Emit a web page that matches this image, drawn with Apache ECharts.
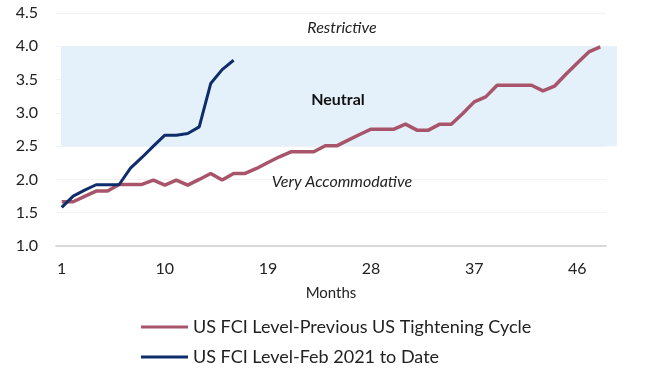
<!DOCTYPE html>
<html>
<head>
<meta charset="utf-8">
<script src="https://cdn.jsdelivr.net/npm/echarts@6/dist/echarts.min.js"></script>
<style>html,body{margin:0;padding:0;background:#fff;}#c{width:650px;height:373px;}</style>
</head>
<body>
<div id="c"></div>
<script>
const months = Array.from({length: 48}, (_, i) => String(i + 1));
const prevCycle = [1.665,1.665,1.745,1.825,1.825,1.925,1.925,1.925,1.99,1.915,1.99,1.915,2.0,2.09,1.99,2.09,2.09,2.165,2.255,2.34,2.415,2.415,2.415,2.505,2.505,2.59,2.675,2.755,2.755,2.755,2.83,2.74,2.74,2.83,2.83,2.99,3.165,3.24,3.415,3.415,3.415,3.415,3.33,3.40,3.58,3.75,3.915,3.99];
const feb2021 = [1.58,1.75,1.84,1.92,1.92,1.92,2.17,2.33,2.5,2.665,2.665,2.69,2.79,3.44,3.65,3.79];
const yTicks = [1.0,1.5,2.0,2.5,3.0,3.5,4.0,4.5];
const neutralBand = {from: 2.5, to: 4.0};
const seriesNames = ['US FCI Level-Previous US Tightening Cycle', 'US FCI Level-Feb 2021 to Date'];
const zoneLabels = {restrictive: 'Restrictive', neutral: 'Neutral', accommodative: 'Very Accommodative'};

const font = 'Lato, "Liberation Sans", sans-serif';
const yMin = yTicks[0], yMax = yTicks[yTicks.length - 1];
const chart = echarts.init(document.getElementById('c'), null, {renderer: 'canvas'});
chart.setOption({
  animation: false,
  textStyle: {fontFamily: font},
  grid: [
    {left: 56, right: 44, top: 13, bottom: 127, containLabel: false},
    {left: 61, right: 33, top: 13, bottom: 127, containLabel: false}
  ],
  legend: {
    orient: 'vertical', left: 141, top: 318, height: 55,
    data: seriesNames,
    icon: 'rect', itemWidth: 47, itemHeight: 3, itemGap: 12, padding: 0,
    textStyle: {fontFamily: font, fontSize: 18, color: '#222'},
    selectedMode: false
  },
  xAxis: [{
    gridIndex: 0, type: 'category', data: months, boundaryGap: true,
    axisLine: {lineStyle: {color: '#d9d9d9', width: 2}},
    axisTick: {show: false},
    axisLabel: {interval: 8, fontSize: 16, color: '#222', margin: 15, fontFamily: font},
    name: 'Months', nameLocation: 'middle', nameGap: 40,
    nameTextStyle: {fontSize: 15, color: '#222', fontFamily: font}
  }, {
    gridIndex: 1, type: 'value', min: 0, max: 1, show: false
  }],
  yAxis: [{
    gridIndex: 0, type: 'value', min: yMin, max: yMax, interval: 0.5,
    axisLine: {show: false}, axisTick: {show: false},
    splitLine: {lineStyle: {color: '#f3f3f3', width: 1}},
    axisLabel: {fontSize: 16, color: '#222', margin: 18, fontFamily: font,
      formatter: v => v.toFixed(1)}
  }, {
    gridIndex: 1, type: 'value', min: yMin, max: yMax, show: false
  }],
  graphic: [
    {type: 'text', z: 100, x: 342, y: 28, style: {text: zoneLabels.restrictive, font: 'italic 16px ' + font, fill: '#222', textAlign: 'center', textVerticalAlign: 'middle'}},
    {type: 'text', z: 100, x: 338, y: 100, style: {text: zoneLabels.neutral, font: 'bold 16px ' + font, fill: '#111', textAlign: 'center', textVerticalAlign: 'middle'}},
    {type: 'text', z: 100, x: 342, y: 182, style: {text: zoneLabels.accommodative, font: 'italic 16px ' + font, fill: '#222', textAlign: 'center', textVerticalAlign: 'middle'}}
  ],
  series: [
    {
      name: 'band', type: 'line', xAxisIndex: 1, yAxisIndex: 1, data: [], z: 1, silent: true,
      markArea: {
        silent: true,
        itemStyle: {color: '#E4F1FA'},
        data: [[{coord: [0, neutralBand.from]}, {coord: [1, neutralBand.to]}]]
      }
    },
    {
      name: seriesNames[0], type: 'line', data: prevCycle, symbol: 'none', z: 3,
      lineStyle: {color: '#A8546A', width: 3.5}, itemStyle: {color: '#A8546A'}
    },
    {
      name: seriesNames[1], type: 'line', data: feb2021, symbol: 'none', z: 4,
      lineStyle: {color: '#0F2D6B', width: 3}, itemStyle: {color: '#0F2D6B'}
    }
  ]
});
</script>
</body>
</html>
